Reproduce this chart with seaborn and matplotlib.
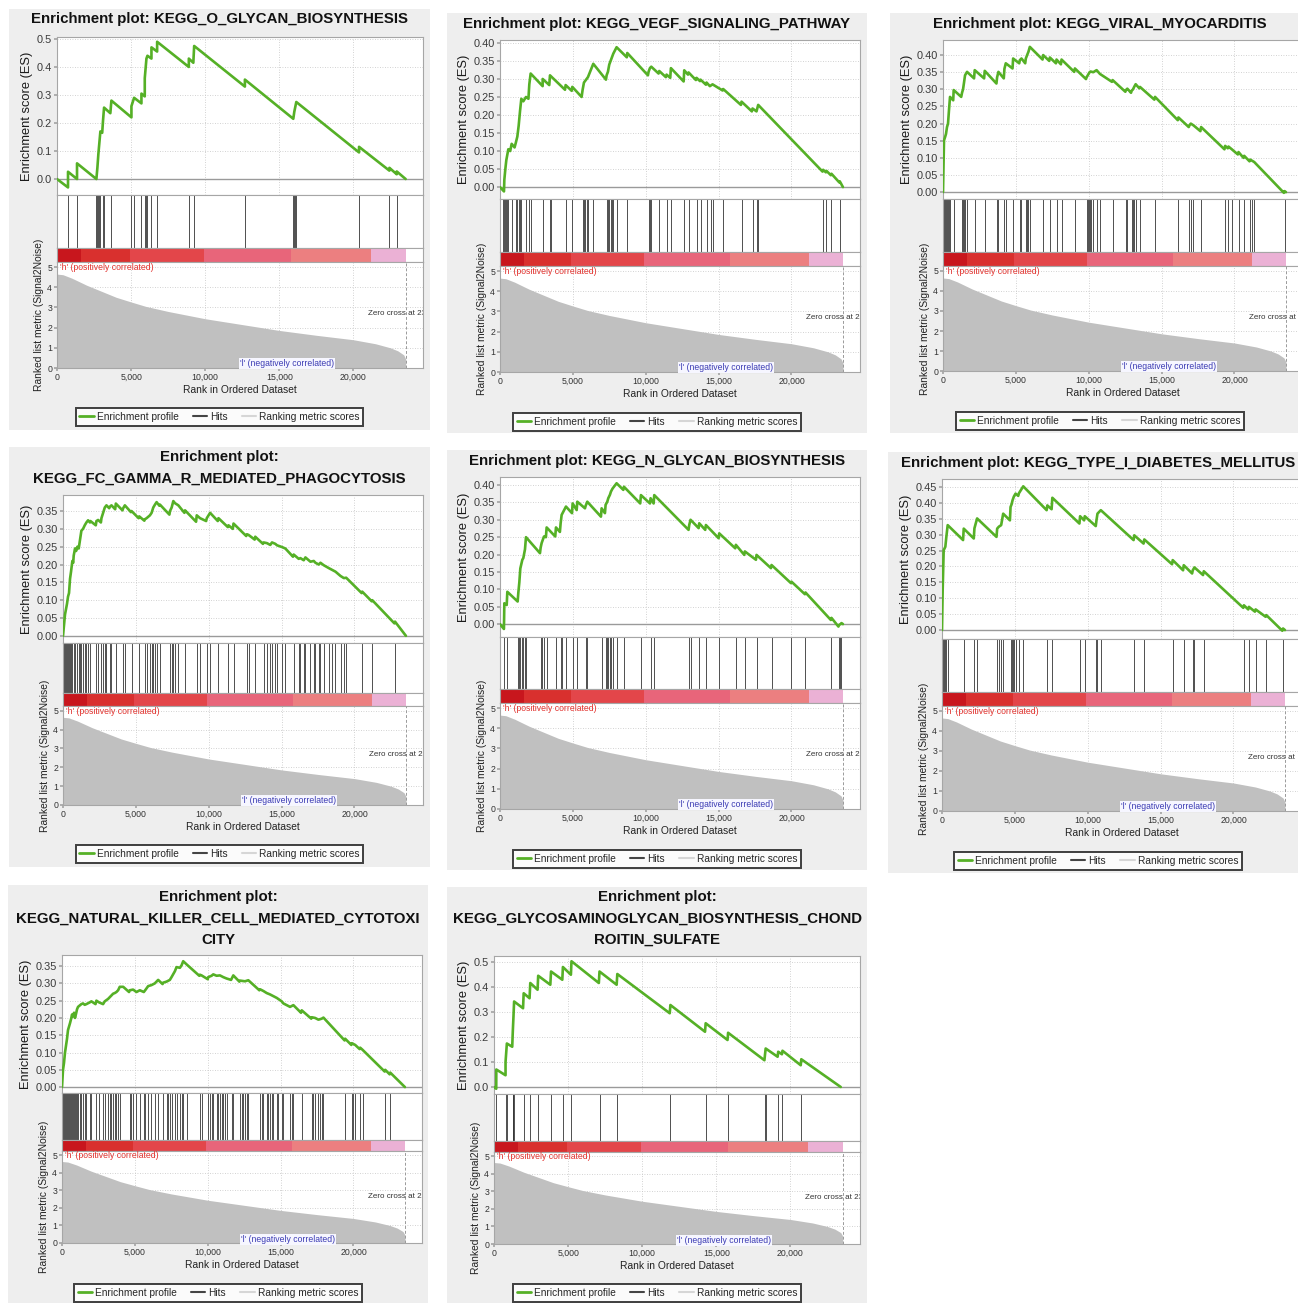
import matplotlib
matplotlib.use("Agg")
import matplotlib.pyplot as plt
import seaborn as sns
import numpy as np
from matplotlib.patches import Rectangle
from matplotlib.lines import Line2D
from matplotlib.ticker import FuncFormatter

W, H = 1298, 1303
N_GENES = 23530

# ---------------- data ----------------
# ranked list metric (same ranked dataset in every panel)
metric_rank = [0, 400, 1000, 2000, 3000, 4000, 5000, 6000, 7500, 10000, 12500,
               15000, 17500, 20000, 21500, 22500, 23000, 23400, 23530]
metric_value = [4.65, 4.62, 4.45, 4.1, 3.8, 3.5, 3.27, 3.05, 2.8, 2.44, 2.15,
                1.86, 1.62, 1.4, 1.2, 1.0, 0.85, 0.65, 0.45]

# colour bar blocks under the hits
cbar_edges = [0, 1650, 4900, 9900, 15800, 21200, 23530]
cbar_colors = ["#c8161d", "#d9302e", "#e3464a", "#e8657a", "#ec7f80", "#ebb1d5"]

o_glycan_hits = [743, 1351, 2658, 2725, 2793, 2860, 2928, 3108, 3176, 3671, 5023, 5203,
                 5698, 5923, 6036, 6104, 6374, 6757, 8896, 9257, 12680, 15946, 16014,
                 16081, 16149, 20383, 22432, 22928]
o_glycan_es = [(0, 0.0), (743, -0.03), (743, 0.026), (1351, 0.0), (1351, 0.056), (2658, 0.0),
               (2725, 0.04), (2793, 0.09), (2860, 0.13), (2928, 0.17), (3050, 0.165), (3108, 0.21),
               (3176, 0.255), (3600, 0.235), (3671, 0.28), (5023, 0.22), (5023, 0.26), (5203, 0.29),
               (5698, 0.27), (5698, 0.305), (5923, 0.295), (5923, 0.36), (6036, 0.43), (6104, 0.44),
               (6374, 0.43), (6374, 0.47), (6757, 0.455), (6757, 0.49), (8896, 0.40), (8896, 0.43),
               (9200, 0.415), (9257, 0.475), (12680, 0.33), (12680, 0.355), (15946, 0.215),
               (16014, 0.24), (16149, 0.275), (20383, 0.095), (20383, 0.115), (22432, 0.03),
               (22432, 0.04), (22928, 0.017), (22928, 0.027), (23530, 0.0)]

vegf_hits = [229, 297, 366, 434, 503, 571, 800, 1097, 1189, 1280, 1372, 1463, 1783, 2011, 2103,
             2926, 3429, 3497, 4503, 4960, 5669, 5760, 5852, 5943, 6034, 6400, 7314, 7406, 7497,
             7589, 7680, 7771, 8000, 8731, 10195, 10286, 10377, 10926, 11429, 11726, 12640,
             12937, 13486, 13760, 14171, 14446, 14583, 15314, 16572, 17326, 17600, 17714, 22171,
             22400, 22743, 23314]
vegf_es = [(0, 0.0), (274, -0.012), (297, 0.02), (366, 0.05), (434, 0.075), (503, 0.09),
           (571, 0.105), (700, 0.1), (800, 0.12), (1000, 0.11), (1097, 0.125), (1189, 0.14),
           (1280, 0.17), (1372, 0.21), (1463, 0.245), (1600, 0.238), (1783, 0.25), (1950, 0.245),
           (2011, 0.285), (2103, 0.315), (2926, 0.28), (2926, 0.30), (3380, 0.283), (3429, 0.31),
           (4460, 0.27), (4503, 0.283), (4920, 0.267), (4960, 0.278), (5600, 0.25), (5669, 0.27),
           (5760, 0.29), (5852, 0.295), (5943, 0.30), (6034, 0.305), (6400, 0.342), (7270, 0.298),
           (7314, 0.31), (7406, 0.32), (7497, 0.34), (7589, 0.35), (7680, 0.36), (7771, 0.37),
           (8000, 0.388), (8700, 0.36), (8731, 0.372), (10150, 0.31), (10195, 0.32), (10286, 0.33),
           (10377, 0.334), (10880, 0.315), (10926, 0.322), (11380, 0.305), (11429, 0.312),
           (11680, 0.303), (11726, 0.33), (12600, 0.293), (12640, 0.324), (12900, 0.312),
           (12937, 0.318), (13440, 0.297), (13486, 0.303), (13720, 0.294), (13760, 0.298),
           (14130, 0.284), (14171, 0.29), (14400, 0.28), (14583, 0.285), (15270, 0.268),
           (15314, 0.272), (16530, 0.228), (16572, 0.237), (17280, 0.21), (17326, 0.218),
           (17600, 0.21), (17714, 0.228), (22130, 0.043), (22171, 0.048), (22360, 0.041),
           (22400, 0.045), (22700, 0.033), (22743, 0.037), (23280, 0.013), (23314, 0.016),
           (23530, 0.0)]

viral_hits = [69, 137, 206, 275, 344, 412, 481, 733, 1306, 1375, 1443, 1512, 1650, 2176, 2864,
              3711, 3803, 4215, 4307, 4811, 5269, 5384, 5682, 5773, 5865, 5957, 6873, 7331, 7789,
              8133, 9049, 9851, 9920, 9988, 10057, 10126, 10309, 10539, 10768, 11638, 12555,
              12646, 12944, 13036, 13127, 13219, 13517, 14548, 16152, 16908, 17000, 17183, 17709,
              19358, 19588, 19817, 20275, 20665, 21077, 21192, 21352, 23437]
viral_es = [(0, 0.0), (69, 0.151), (137, 0.16), (206, 0.17), (275, 0.19), (344, 0.2), (412, 0.24),
            (481, 0.278), (700, 0.268), (733, 0.298), (1250, 0.278), (1306, 0.29), (1375, 0.3),
            (1443, 0.32), (1512, 0.341), (1650, 0.351), (2130, 0.332), (2176, 0.356), (2820, 0.332),
            (2864, 0.354), (3666, 0.317), (3711, 0.335), (3803, 0.351), (4170, 0.332), (4215, 0.36),
            (4307, 0.376), (4770, 0.361), (4811, 0.39), (5230, 0.376), (5269, 0.385), (5384, 0.39),
            (5640, 0.376), (5682, 0.39), (5773, 0.4), (5865, 0.41), (5957, 0.424), (6830, 0.387),
            (6873, 0.4), (7290, 0.383), (7331, 0.393), (7750, 0.376), (7789, 0.387), (8090, 0.373),
            (8133, 0.387), (9003, 0.351), (9049, 0.361), (9810, 0.33), (9851, 0.335), (9920, 0.34),
            (9988, 0.345), (10057, 0.35), (10126, 0.352), (10309, 0.35), (10539, 0.356),
            (10768, 0.345), (11590, 0.322), (11638, 0.327), (12510, 0.293), (12555, 0.298),
            (12646, 0.302), (12900, 0.29), (12944, 0.296), (13036, 0.3), (13127, 0.308),
            (13219, 0.315), (13470, 0.303), (13517, 0.307), (14500, 0.27), (14548, 0.278),
            (16110, 0.21), (16152, 0.218), (16860, 0.19), (16908, 0.195), (17000, 0.2),
            (17183, 0.195), (17660, 0.178), (17709, 0.19), (19310, 0.125), (19358, 0.135),
            (19540, 0.128), (19588, 0.133), (19817, 0.125), (20230, 0.11), (20275, 0.117),
            (20620, 0.1), (20665, 0.106), (21030, 0.09), (21077, 0.095), (21192, 0.092),
            (21352, 0.088), (23390, -0.002), (23437, 0.003), (23530, 0.0)]

fc_gamma_hits = [69, 138, 206, 275, 344, 413, 482, 551, 642, 734, 826, 986, 1078, 1170, 1262, 1376,
                 1491, 1606, 1721, 1881, 2294, 2409, 2638, 2753, 2868, 2982, 3212, 3326, 3625, 4129,
                 4244, 4703, 5230, 5620, 5735, 5964, 6079, 6194, 6309, 6423, 6653, 7341, 7456, 7570,
                 7685, 7914, 8373, 9176, 9405, 9864, 10094, 10667, 11355, 11699, 12617, 12732,
                 13190, 13764, 13993, 14223, 14338, 14567, 14682, 15026, 15255, 15829, 16173,
                 16287, 16517, 16632, 16976, 17205, 17320, 17549, 17664, 17893, 18237, 18467,
                 18696, 19040, 19270, 19430, 20531, 21220, 22779]
fc_gamma_es = [(0, 0.0), (69, 0.03), (138, 0.06), (206, 0.075), (275, 0.09), (344, 0.11), (413, 0.12),
               (482, 0.16), (551, 0.18), (642, 0.21), (700, 0.205), (734, 0.225), (826, 0.245),
               (900, 0.238), (986, 0.25), (1078, 0.245), (1170, 0.27), (1262, 0.295), (1376, 0.3),
               (1491, 0.31), (1606, 0.318), (1721, 0.324), (1850, 0.318), (1881, 0.322), (2250, 0.31),
               (2294, 0.322), (2409, 0.325), (2600, 0.318), (2638, 0.33), (2753, 0.345), (2868, 0.36),
               (2982, 0.366), (3170, 0.358), (3212, 0.362), (3326, 0.366), (3580, 0.355),
               (3625, 0.371), (4080, 0.352), (4129, 0.358), (4244, 0.366), (4660, 0.347),
               (4703, 0.35), (5190, 0.33), (5230, 0.335), (5580, 0.323), (5620, 0.327), (5735, 0.33),
               (5964, 0.338), (6079, 0.345), (6194, 0.36), (6309, 0.368), (6423, 0.375),
               (6610, 0.365), (6653, 0.368), (7300, 0.34), (7341, 0.35), (7456, 0.36), (7570, 0.378),
               (7685, 0.372), (7914, 0.366), (8330, 0.345), (8373, 0.352), (9130, 0.32),
               (9176, 0.338), (9405, 0.33), (9820, 0.322), (9864, 0.33), (10094, 0.345),
               (10620, 0.322), (10667, 0.33), (11310, 0.305), (11355, 0.31), (11650, 0.3),
               (11699, 0.315), (12570, 0.28), (12617, 0.285), (12732, 0.283), (13150, 0.27),
               (13190, 0.278), (13720, 0.258), (13764, 0.262), (13993, 0.26), (14223, 0.255),
               (14338, 0.262), (14567, 0.258), (14682, 0.254), (15026, 0.249), (15255, 0.245),
               (15780, 0.222), (15829, 0.228), (16173, 0.216), (16287, 0.218), (16517, 0.212),
               (16632, 0.22), (16976, 0.208), (17205, 0.21), (17320, 0.205), (17549, 0.2),
               (17664, 0.205), (17893, 0.198), (18237, 0.19), (18467, 0.185), (18696, 0.18),
               (19040, 0.168), (19270, 0.162), (19430, 0.163), (20490, 0.12), (20531, 0.124),
               (21180, 0.097), (21220, 0.1), (22740, 0.035), (22779, 0.04), (23530, 0.0)]

n_glycan_hits = [297, 503, 1257, 1326, 1394, 1532, 1600, 1714, 1783, 2789, 2857, 3017, 3200, 3840,
                 4160, 4229, 4526, 4983, 5303, 5875, 5989, 6972, 7246, 7361, 7429, 7543, 7612,
                 7726, 8000, 8503, 9669, 10332, 10583, 12983, 13074, 13669, 14126, 15040, 16183,
                 16800, 17600, 18629, 20000, 20960, 22743, 23269, 23360, 23429]
n_glycan_es = [(0, 0.0), (270, -0.014), (297, 0.06), (460, 0.055), (503, 0.093), (1211, 0.065),
               (1257, 0.09), (1326, 0.12), (1394, 0.16), (1532, 0.185), (1600, 0.19), (1714, 0.215),
               (1783, 0.25), (2743, 0.204), (2789, 0.22), (2857, 0.233), (3017, 0.252), (3150, 0.25),
               (3200, 0.278), (3790, 0.252), (3840, 0.278), (4110, 0.265), (4160, 0.29),
               (4229, 0.314), (4526, 0.338), (4940, 0.319), (4983, 0.347), (5260, 0.328),
               (5303, 0.352), (5830, 0.333), (5875, 0.34), (5989, 0.352), (6926, 0.309),
               (6972, 0.333), (7200, 0.319), (7246, 0.343), (7361, 0.352), (7429, 0.362),
               (7543, 0.372), (7612, 0.381), (7726, 0.39), (8000, 0.405), (8460, 0.386),
               (8503, 0.395), (9620, 0.347), (9669, 0.371), (10290, 0.347), (10332, 0.362),
               (10540, 0.347), (10583, 0.371), (12937, 0.271), (12983, 0.285), (13074, 0.3),
               (13630, 0.276), (13669, 0.29), (14080, 0.271), (14126, 0.285), (15000, 0.247),
               (15040, 0.261), (16140, 0.218), (16183, 0.228), (16760, 0.199), (16800, 0.209),
               (17560, 0.185), (17600, 0.199), (18590, 0.161), (18629, 0.17), (19960, 0.118),
               (20000, 0.122), (20920, 0.086), (20960, 0.091), (22700, 0.012), (22743, 0.018),
               (23220, -0.007), (23269, -0.002), (23360, 0.0), (23429, 0.003), (23530, 0.0)]

diabetes_hits = [46, 115, 229, 298, 390, 1491, 2225, 2409, 3785, 3900, 4060, 4198, 4703, 4772, 4840,
                 4932, 5047, 5276, 5574, 7226, 7570, 9474, 9795, 10598, 10667, 10897, 13191,
                 13879, 15829, 16586, 17205, 17320, 17962, 20715, 21059, 21518, 22252, 23399]
diabetes_es = [(0, 0.0), (46, 0.126), (115, 0.251), (229, 0.262), (298, 0.293), (390, 0.33),
               (1445, 0.283), (1491, 0.319), (2180, 0.288), (2225, 0.32), (2409, 0.351),
               (3739, 0.293), (3785, 0.319), (3900, 0.325), (4060, 0.33), (4198, 0.366),
               (4660, 0.345), (4703, 0.387), (4772, 0.395), (4840, 0.408), (4932, 0.42),
               (5047, 0.429), (5230, 0.422), (5276, 0.43), (5574, 0.452), (7180, 0.377),
               (7226, 0.392), (7520, 0.38), (7570, 0.416), (9428, 0.335), (9474, 0.358),
               (9750, 0.345), (9795, 0.358), (10550, 0.327), (10598, 0.345), (10667, 0.366),
               (10897, 0.377), (13145, 0.283), (13191, 0.298), (13830, 0.272), (13879, 0.285),
               (15783, 0.207), (15829, 0.22), (16540, 0.188), (16586, 0.204), (17160, 0.178),
               (17205, 0.188), (17320, 0.197), (17910, 0.173), (17962, 0.185), (20670, 0.07),
               (20715, 0.078), (21010, 0.065), (21059, 0.073), (21470, 0.058), (21518, 0.065),
               (22200, 0.042), (22252, 0.047), (23350, -0.002), (23399, 0.005), (23530, 0.0)]

nk_hits = [69, 137, 206, 275, 344, 412, 481, 550, 619, 687, 756, 825, 893, 962, 1031, 1100, 1214,
           1329, 1443, 1558, 1672, 1902, 2016, 2360, 2543, 2818, 2932, 3161, 3276, 3391, 3505,
           3620, 3734, 3849, 3963, 4651, 4765, 4880, 5109, 5338, 5613, 5705, 5911, 6140, 6369,
           6598, 6942, 7171, 7285, 7400, 7515, 7744, 7858, 8087, 8202, 8316, 8545, 9462, 9576,
           10034, 10149, 10264, 10378, 10607, 10722, 10836, 10951, 11066, 11180, 11295, 11638,
           11753, 12211, 12326, 12440, 12555, 12669, 12784, 13586, 13700, 13815, 14044, 14158,
           14273, 14388, 14502, 14731, 14846, 15075, 15189, 15647, 15762, 15876, 16449, 17137,
           17251, 17366, 17595, 17709, 17824, 17938, 19427, 19886, 20000, 20115, 20458, 20619,
           22177, 22520]
nk_es = [(0, 0.0), (69, 0.05), (137, 0.07), (206, 0.1), (275, 0.12), (344, 0.14), (412, 0.165),
         (481, 0.175), (550, 0.185), (641, 0.2), (687, 0.21), (756, 0.205), (825, 0.215),
         (893, 0.2), (962, 0.212), (1031, 0.225), (1100, 0.232), (1214, 0.236), (1329, 0.24),
         (1443, 0.242), (1558, 0.238), (1672, 0.24), (1902, 0.245), (2016, 0.248), (2300, 0.24),
         (2360, 0.25), (2543, 0.245), (2818, 0.24), (2932, 0.248), (3161, 0.255), (3276, 0.26),
         (3391, 0.265), (3505, 0.27), (3620, 0.272), (3734, 0.275), (3849, 0.28), (3963, 0.29),
         (4200, 0.29), (4600, 0.275), (4651, 0.28), (4880, 0.282), (5109, 0.275), (5338, 0.28),
         (5613, 0.275), (5705, 0.28), (5911, 0.292), (6140, 0.295), (6369, 0.3), (6598, 0.31),
         (6900, 0.298), (6942, 0.302), (7171, 0.305), (7400, 0.31), (7515, 0.318), (7744, 0.335),
         (7858, 0.347), (8087, 0.345), (8202, 0.352), (8316, 0.364), (8545, 0.355),
         (9420, 0.322), (9462, 0.325), (9576, 0.323), (10000, 0.312), (10034, 0.318),
         (10264, 0.322), (10378, 0.326), (10607, 0.322), (10836, 0.323), (11066, 0.318),
         (11295, 0.314), (11600, 0.31), (11753, 0.323), (12170, 0.305), (12211, 0.308),
         (12555, 0.306), (12784, 0.309), (13540, 0.28), (13586, 0.283), (13815, 0.278),
         (14044, 0.272), (14273, 0.268), (14502, 0.263), (14731, 0.258), (15075, 0.248),
         (15189, 0.242), (15647, 0.232), (15876, 0.237), (16400, 0.215), (16449, 0.222),
         (17100, 0.198), (17137, 0.202), (17366, 0.2), (17595, 0.195), (17824, 0.198),
         (17938, 0.201), (19390, 0.135), (19427, 0.14), (19850, 0.122), (19886, 0.127),
         (20115, 0.122), (20420, 0.11), (20458, 0.114), (20619, 0.108), (22140, 0.045),
         (22177, 0.05), (22480, 0.037), (22520, 0.042), (23530, 0.0)]

chond_hits = [156, 779, 868, 1268, 1313, 1357, 2003, 2448, 2982, 3849, 4650, 5229, 7120, 8322,
              11904, 14285, 15798, 18290, 18334, 19180, 19469, 20737]
chond_es = [(0, 0.0), (150, -0.007), (156, 0.07), (779, 0.047), (779, 0.1), (868, 0.174),
            (1230, 0.161), (1268, 0.221), (1313, 0.28), (1357, 0.342), (1960, 0.315), (2003, 0.375),
            (2400, 0.355), (2448, 0.416), (2940, 0.389), (2982, 0.445), (3800, 0.409), (3849, 0.462),
            (4610, 0.429), (4650, 0.48), (5190, 0.449), (5229, 0.503), (7075, 0.416), (7120, 0.462),
            (8277, 0.409), (8322, 0.452), (11860, 0.295), (11904, 0.328), (14240, 0.221),
            (14285, 0.255), (15760, 0.188), (15798, 0.217), (18250, 0.107), (18290, 0.13),
            (18334, 0.154), (19140, 0.121), (19180, 0.141), (19430, 0.131), (19469, 0.145),
            (20700, 0.087), (20737, 0.111), (23400, 0.0)]

ZERO_TEXT = "Zero cross at 23530"
ZERO_TEXT_SHORT = "Zero cross at"   # panels cut by the right edge of the picture

# ---------------- layout (pixels in the 1298x1303 canvas) ----------------
panels = [
    dict(title=["Enrichment plot: KEGG_O_GLYCAN_BIOSYNTHESIS"], hits=o_glycan_hits, es=o_glycan_es,
         ylim=(-0.057, 0.507), ystep=0.1, ymax=0.5, fmt="{:.1f}", zero=ZERO_TEXT,
         bg=(9, 9, 430, 430), title_y=19, ax_x=(57, 423), rows=(37, 195, 248, 262, 368), legend_y=417),
    dict(title=["Enrichment plot: KEGG_VEGF_SIGNALING_PATHWAY"], hits=vegf_hits, es=vegf_es,
         ylim=(-0.033, 0.408), ystep=0.05, ymax=0.40, fmt="{:.2f}", zero=ZERO_TEXT,
         bg=(447, 13, 867, 433), title_y=24, ax_x=(500, 860), rows=(40, 199, 252, 266, 372), legend_y=422),
    dict(title=["Enrichment plot: KEGG_VIRAL_MYOCARDITIS"], hits=viral_hits, es=viral_es,
         ylim=(-0.02, 0.444), ystep=0.05, ymax=0.40, fmt="{:.2f}", zero=ZERO_TEXT_SHORT,
         bg=(890, 13, 1310, 433), title_y=24, ax_x=(943, 1303), rows=(40, 199, 252, 266, 371), legend_y=421),
    dict(title=["Enrichment plot:", "KEGG_FC_GAMMA_R_MEDIATED_PHAGOCYTOSIS"], hits=fc_gamma_hits, es=fc_gamma_es,
         ylim=(-0.02, 0.395), ystep=0.05, ymax=0.35, fmt="{:.2f}", zero=ZERO_TEXT,
         bg=(9, 447, 430, 867), title_y=457, ax_x=(63, 423), rows=(495, 643, 693, 706, 805), legend_y=854),
    dict(title=["Enrichment plot: KEGG_N_GLYCAN_BIOSYNTHESIS"], hits=n_glycan_hits, es=n_glycan_es,
         ylim=(-0.037, 0.423), ystep=0.05, ymax=0.40, fmt="{:.2f}", zero=ZERO_TEXT,
         bg=(447, 450, 867, 870), title_y=461, ax_x=(500, 860), rows=(477, 637, 689, 703, 809), legend_y=859),
    dict(title=["Enrichment plot: KEGG_TYPE_I_DIABETES_MELLITUS"], hits=diabetes_hits, es=diabetes_es,
         ylim=(-0.028, 0.475), ystep=0.05, ymax=0.45, fmt="{:.2f}", zero=ZERO_TEXT_SHORT,
         bg=(888, 452, 1308, 873), title_y=463, ax_x=(942, 1302), rows=(479, 639, 692, 706, 811), legend_y=861),
    dict(title=["Enrichment plot:", "KEGG_NATURAL_KILLER_CELL_MEDIATED_CYTOTOXI", "CITY"], hits=nk_hits, es=nk_es,
         ylim=(-0.017, 0.382), ystep=0.05, ymax=0.35, fmt="{:.2f}", zero=ZERO_TEXT,
         bg=(8, 885, 428, 1310), title_y=897, ax_x=(62, 422), rows=(955, 1093, 1140, 1151, 1243), legend_y=1293),
    dict(title=["Enrichment plot:", "KEGG_GLYCOSAMINOGLYCAN_BIOSYNTHESIS_CHOND", "ROITIN_SULFATE"],
         hits=chond_hits, es=chond_es,
         ylim=(-0.028, 0.524), ystep=0.1, ymax=0.5, fmt="{:.1f}", zero=ZERO_TEXT,
         bg=(447, 887, 867, 1310), title_y=897, ax_x=(494, 860), rows=(956, 1094, 1141, 1152, 1244), legend_y=1293),
]

GREEN = "#55b026"
BG = "#eeeeee"
SPINE = "#a6a6a6"
GRID = "#c4c4c4"
XMAX = 24700
XTICKS = [0, 5000, 10000, 15000, 20000]

sns.set_theme(style="white")
plt.rcParams["font.family"] = ["Liberation Sans", "DejaVu Sans"]

fig = plt.figure(figsize=(W / 100, H / 100), dpi=100)


def fx(x):
    return x / W


def fy(y):
    return 1 - y / H


def style_axes(ax):
    ax.set_facecolor("white")
    for s in ax.spines.values():
        s.set_color(SPINE)
        s.set_linewidth(0.8)
    ax.set_xlim(0, XMAX)


def draw_panel(p):
    x0, y0, x1, y1 = p["bg"]
    fig.add_artist(Rectangle((fx(x0), fy(y1)), (x1 - x0) / W, (y1 - y0) / H,
                             transform=fig.transFigure, fc=BG, ec="none", zorder=-5))
    cx = (x0 + x1) / 2
    for k, line in enumerate(p["title"]):
        fig.text(fx(cx), fy(p["title_y"] + k * 21.5), line, ha="center", va="center",
                 fontsize=10.8, fontweight="bold", color="#111111")

    l, r = p["ax_x"]
    top, es_bot, hits_bot, cb_bot, rk_bot = p["rows"]

    def mk(t, b):
        return fig.add_axes([fx(l), fy(b), (r - l) / W, (b - t) / H])

    ax_es, ax_hit, ax_cb, ax_rk = mk(top, es_bot), mk(es_bot, hits_bot), mk(hits_bot, cb_bot), mk(cb_bot, rk_bot)
    for ax in (ax_es, ax_hit, ax_cb, ax_rk):
        style_axes(ax)

    # --- enrichment profile
    es_r = [a for a, _ in p["es"]]
    es_v = [b for _, b in p["es"]]
    ax_es.axhline(0, color="#9a9a9a", lw=1.0, zorder=1)
    sns.lineplot(x=es_r, y=es_v, sort=False, estimator=None, color=GREEN, lw=1.9, ax=ax_es, zorder=3)
    ax_es.set_ylim(*p["ylim"])
    ticks = np.round(np.arange(0, p["ymax"] + 1e-9, p["ystep"]), 2)
    ax_es.set_yticks(ticks)
    ax_es.set_yticklabels([p["fmt"].format(t) for t in ticks])
    ax_es.set_xticks(XTICKS)
    ax_es.tick_params(axis="x", length=0, labelbottom=False)
    ax_es.tick_params(axis="y", length=2, pad=1.5, labelsize=7.9, labelcolor="#3a3a3a", left=True, color=SPINE)
    ax_es.grid(True, ls=(0, (1, 2)), color=GRID, lw=0.6)
    ax_es.set_ylabel("Enrichment score (ES)", fontsize=9.3, labelpad=3, color="#1a1a1a")
    ax_es.set_xlabel("")

    # --- hits
    ax_hit.vlines(p["hits"], 0, 1, color="#333333", lw=0.6)
    ax_hit.set_ylim(0, 1)
    ax_hit.set_xticks([])
    ax_hit.set_yticks([])

    # --- colour bar
    for a, b, c in zip(cbar_edges[:-1], cbar_edges[1:], cbar_colors):
        ax_cb.axvspan(a, b, color=c, lw=0)
    ax_cb.set_xticks([])
    ax_cb.set_yticks([])

    # --- ranked list metric
    ax_rk.fill_between(metric_rank, 0, metric_value, color="#c0c0c0", lw=0, zorder=2)
    ax_rk.axvline(N_GENES, color="#9a9a9a", ls=(0, (3, 2)), lw=0.7, zorder=3)
    ax_rk.set_ylim(0, 5.25)
    ax_rk.set_yticks([0, 1, 2, 3, 4, 5])
    ax_rk.set_xticks(XTICKS)
    ax_rk.xaxis.set_major_formatter(FuncFormatter(lambda v, _: f"{int(v):,}"))
    ax_rk.tick_params(axis="both", length=2, pad=1.5, labelsize=6.3, labelcolor="#333333",
                      left=True, bottom=True, color=SPINE)
    ax_rk.grid(True, ls=(0, (1, 2)), color=GRID, lw=0.6, zorder=0)
    ax_rk.set_axisbelow(True)
    ax_rk.set_ylabel("Ranked list metric (Signal2Noise)", fontsize=7.4, labelpad=2, color="#222222")
    ax_rk.set_xlabel("Rank in Ordered Dataset", fontsize=7.4, labelpad=2, color="#222222")
    ax_rk.text(180, 4.97, "'h' (positively correlated)", color="#e2302c", fontsize=6.2,
               ha="left", va="center", zorder=4)
    ax_rk.text(15500, 0.22, "'l' (negatively correlated)", color="#3b3bb3", fontsize=6.2,
               ha="center", va="center", zorder=4,
               bbox=dict(fc="#f6f6ff", ec="none", pad=0.6))
    ax_rk.text(21000, 2.68, p["zero"], color="#333333", fontsize=5.8,
               ha="left", va="center", clip_on=True, zorder=4)

    # --- legend
    handles = [Line2D([], [], color=GREEN, lw=2), Line2D([], [], color="#444444", lw=1.5),
               Line2D([], [], color="#d6d6d6", lw=1.5)]
    labels = ["Enrichment profile", "Hits", "Ranking metric scores"]
    leg = fig.legend(handles, labels, loc="center", bbox_to_anchor=(fx(cx), fy(p["legend_y"])),
                     ncol=3, fontsize=7.3, frameon=True, fancybox=False, handlelength=1.4,
                     handletextpad=0.3, columnspacing=1.4, borderpad=0.35, borderaxespad=0)
    fr = leg.get_frame()
    fr.set_edgecolor("#111111")
    fr.set_linewidth(1.4)
    fr.set_facecolor("white")


for p in panels:
    draw_panel(p)

fig.savefig("out.png", dpi=100)
